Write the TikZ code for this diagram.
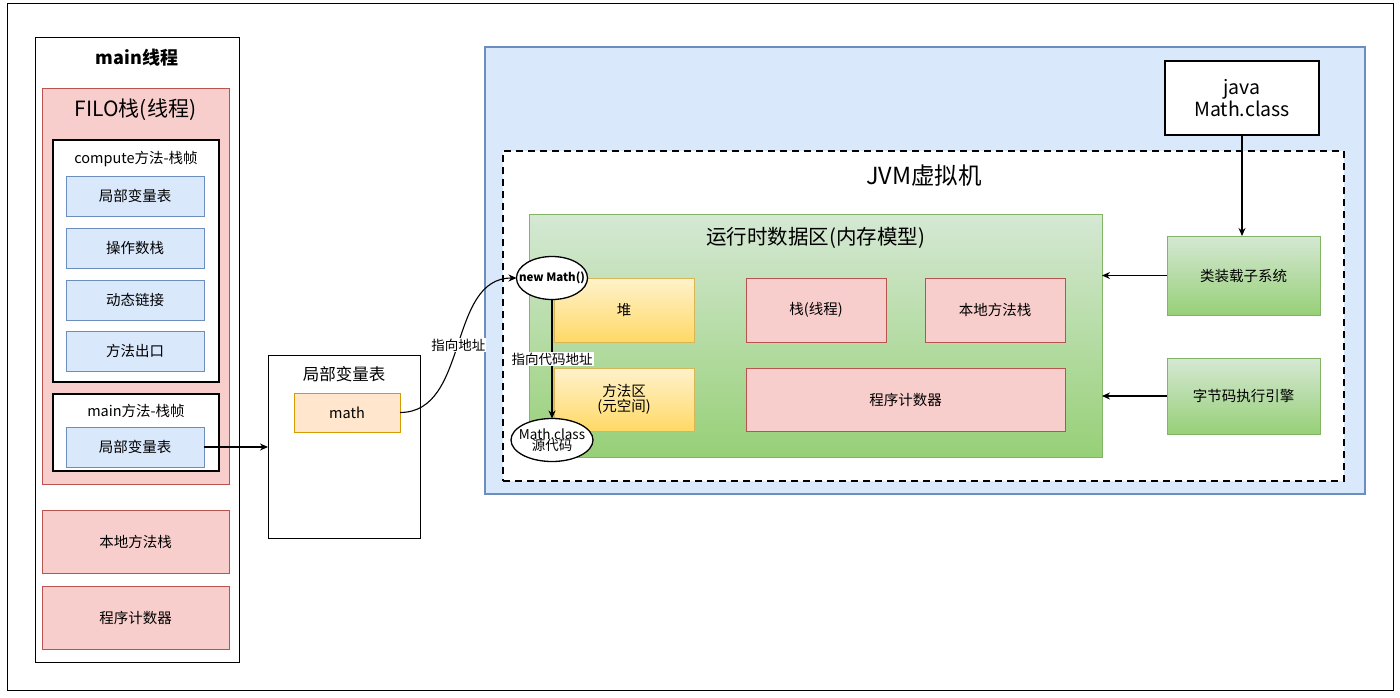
\documentclass[tikz,border=0pt]{standalone}
\usepackage{fontspec}
\setmainfont{Noto Sans CJK SC}
\usetikzlibrary{arrows.meta,positioning,calc,shapes.geometric}
\definecolor{bluefill}{HTML}{DAE8FC}
\definecolor{blueline}{HTML}{6C8EBF}
\definecolor{redfill}{HTML}{F8CECC}
\definecolor{redline}{HTML}{B85450}
\definecolor{orangefill}{HTML}{FFE6CC}
\definecolor{orangeline}{HTML}{D79B00}
\definecolor{greentop}{HTML}{D5E8D4}
\definecolor{greenbot}{HTML}{97D077}
\definecolor{greenline}{HTML}{82B366}
\definecolor{yellowtop}{HTML}{FFF2CC}
\definecolor{yellowbot}{HTML}{FFD966}
\definecolor{yellowline}{HTML}{D6B656}
\newcommand{\fs}[1]{\fontsize{#1}{#1}\selectfont}
\tikzset{
  box/.style={rectangle,inner sep=0pt,outer sep=0pt,line width=1pt,align=center,font=\fs{14.5}},
  bluebox/.style={box,draw=blueline,fill=bluefill,minimum width=138pt,minimum height=40pt},
  redbox/.style={box,draw=redline,fill=redfill},
  framebox/.style={box,draw=black,fill=white},
  yellowbox/.style={box,draw=yellowline,top color=yellowtop,bottom color=yellowbot,minimum width=140pt},
  greenbox/.style={box,draw=greenline,top color=greentop,bottom color=greenbot},
  oval/.style={ellipse,draw=black,fill=white,line width=1.3pt,inner sep=0pt,outer sep=0pt},
  title/.style={inner sep=0pt,font=\fs{21}},
  tag/.style={fill=white,inner sep=1pt,font=\fs{13.5}},
  link/.style={-{Stealth[length=8pt,width=7pt]},line width=1.1pt}
}

\begin{document}
\begin{tikzpicture}[x=1pt,y=-1pt]
  \useasboundingbox (0,0) rectangle (1400,698);
  \draw[line width=1pt] (7,4) rectangle (1393,690);

  % main thread
  \node[framebox,minimum width=204pt,minimum height=624pt] (mainthread) at (137,350) {};
  \node[title,font=\fs{18}\bfseries] (mainlabel) at (137,58) {main线程};
  \node[redbox,minimum width=187pt,minimum height=395pt] (filo) at (135.5,286.5) {};
  \node[title] (filolabel) at (135.5,110) {FILO栈(线程)};

  % compute frame
  \node[framebox,line width=1.3pt,minimum width=166pt,minimum height=242pt] (computeframe) at (136,261) {};
  \node[inner sep=0pt,font=\fs{14.5}] (computelabel) at (136,159) {compute方法-栈帧};
  \node[bluebox] (locals1) at (135,196) {局部变量表};
  \node[bluebox] (operand) at (135,248) {操作数栈};
  \node[bluebox] (dynlink) at (135,300) {动态链接};
  \node[bluebox] (retaddr) at (135,351) {方法出口};

  % main frame
  \node[framebox,line width=1.3pt,minimum width=166pt,minimum height=77pt] (mainframe) at (136,432.5) {};
  \node[inner sep=0pt,font=\fs{14.5}] (mainframelabel) at (136,411) {main方法-栈帧};
  \node[bluebox] (locals2) at (135,447) {局部变量表};

  \node[redbox,minimum width=187pt,minimum height=63pt] (nativeleft) at (135.5,541.5) {本地方法栈};
  \node[redbox,minimum width=187pt,minimum height=63pt] (pcleft) at (135.5,617.5) {程序计数器};

  % local variable table
  \node[framebox,minimum width=152pt,minimum height=183pt] (localtable) at (344,446.5) {};
  \node[inner sep=0pt,font=\fs{16.5}] (localtablelabel) at (344,374) {局部变量表};
  \node[box,draw=orangeline,fill=orangefill,minimum width=106pt,minimum height=39pt] (math) at (347,412.5) {math};

  % JVM
  \node[box,draw=blueline,fill=bluefill,line width=2pt,minimum width=880pt,minimum height=447pt] (jvmbg) at (925,270.5) {};
  \node[box,draw=black,fill=white,dashed,dash pattern=on 7pt off 5pt,line width=2pt,minimum width=841pt,minimum height=330pt] (jvm) at (923.5,316) {};
  \node[title,font=\fs{23.5}] (jvmlabel) at (924,176) {JVM虚拟机};
  \node[box,draw=black,fill=white,line width=2.4pt,minimum width=154pt,minimum height=74pt,font=\fs{19.5}] (javafile) at (1242,98) {java\\Math.class};

  % runtime data area
  \node[greenbox,minimum width=573pt,minimum height=243pt] (runtime) at (815.5,335.5) {};
  \node[title,font=\fs{20.5}] (runtimelabel) at (815.5,238) {运行时数据区(内存模型)};
  \node[yellowbox,minimum height=64pt] (heap) at (624,310) {堆};
  \node[yellowbox,minimum height=63pt] (methodarea) at (624,399.5) {方法区\\(元空间)};
  \node[redbox,minimum width=140pt,minimum height=64pt] (stack) at (816,310) {栈(线程)};
  \node[redbox,minimum width=140pt,minimum height=64pt] (native) at (995,310) {本地方法栈};
  \node[redbox,minimum width=319pt,minimum height=63pt] (pc) at (905.5,399.5) {程序计数器};

  \node[greenbox,minimum width=153pt,minimum height=79pt] (loader) at (1243.5,275.5) {类装载子系统};
  \node[greenbox,minimum width=153pt,minimum height=76pt] (engine) at (1243.5,396) {字节码执行引擎};

  % ovals with text on top
  \node[oval,minimum width=71pt,minimum height=43pt] (newmath) at (552,278) {};
  \node[inner sep=0pt,font=\fs{11.5}\bfseries] (newmathtext) at (newmath) {new Math()};
  \node[oval,minimum width=82pt,minimum height=43pt] (mathclass) at (552,440) {};
  \node[inner sep=0pt,align=center,font=\fs{13.5}] (mathclasstext) at (mathclass) {Math.class\\[-2pt]源代码};

  % connectors
  \draw[link] (locals2.east) -- (localtable.west |- locals2.east);
  \draw[link] (math.east) to[out=0,in=180] node[tag,pos=0.5] {指向地址} (newmath.west);
  \draw[link] (newmath.south) -- node[tag] {指向代码地址} (mathclass.north);
  \draw[link] (javafile.south) -- (javafile.south |- loader.north);
  \draw[link] (loader.west) -- (loader.west -| runtime.east);
  \draw[link] (engine.west) -- (engine.west -| runtime.east);
\end{tikzpicture}
\end{document}
